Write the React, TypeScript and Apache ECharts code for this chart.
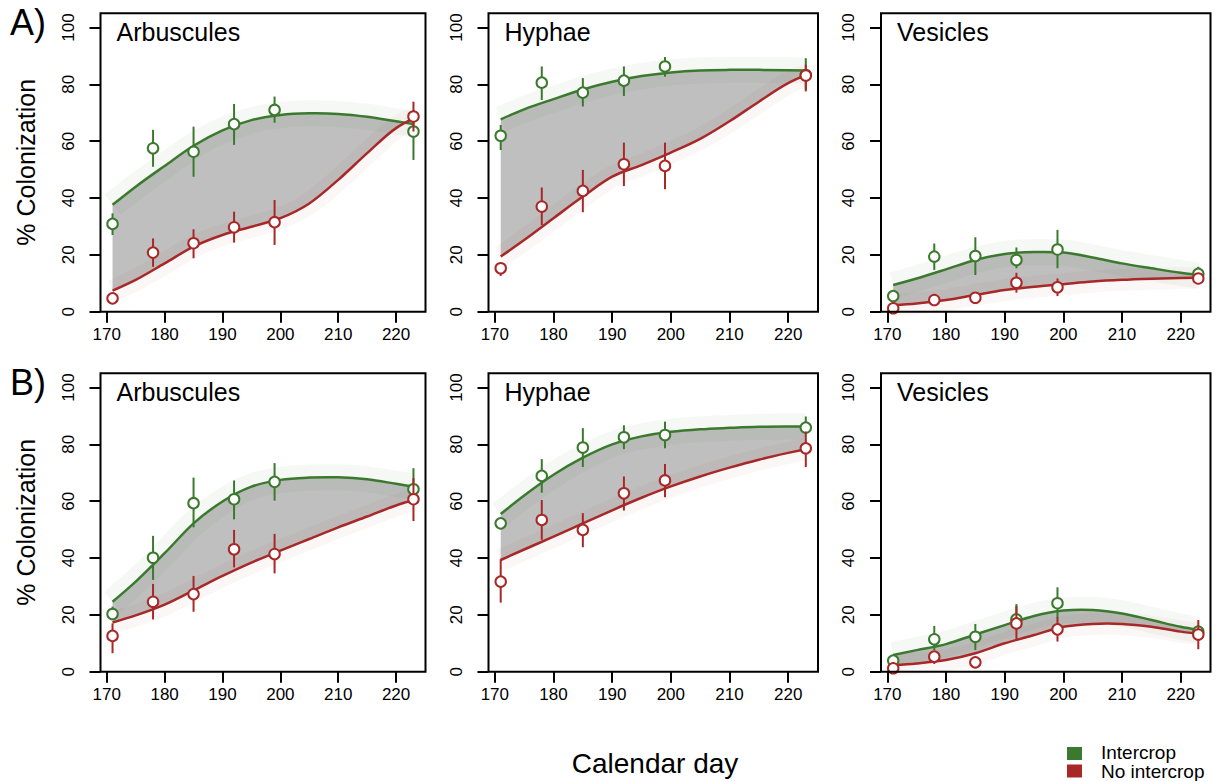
import React, { useEffect, useRef } from "react";
import * as echarts from "echarts";

// ---------- data ----------
const days = [171, 178, 185, 192, 199, 223];
const fitDays = [171, 175, 180, 185, 190, 195, 200, 205, 210, 215, 220, 223];
const xTicks = [170, 180, 190, 200, 210, 220];
const yTicks = [0, 20, 40, 60, 80, 100];
const titles = ["Arbuscules", "Hyphae", "Vesicles"];
const rowLabels = ["A)", "B)"];
const legendNames = ["Intercrop", "No intercrop"];

// A) Arbuscules
const aArbGreenPts = [30.9, 57.5, 56.3, 66.0, 71.0, 63.4];
const aArbGreenLo = [27.0, 51.0, 47.5, 58.7, 66.5, 53.4];
const aArbGreenHi = [34.6, 64.0, 65.1, 73.1, 75.7, 71.0];
const aArbRedPts = [4.7, 20.8, 24.1, 29.7, 31.5, 68.7];
const aArbRedLo = [3.5, 15.8, 18.8, 24.3, 23.5, 63.4];
const aArbRedHi = [6.0, 25.8, 29.0, 35.2, 39.3, 73.9];
const aArbGreenFit = [37.6, 44.0, 51.3, 58.4, 63.8, 67.4, 69.2, 69.8, 69.6, 68.6, 67.0, 66.0];
const aArbRedFit = [7.4, 11.2, 17.0, 22.9, 27.0, 29.9, 32.9, 38.1, 46.4, 55.8, 64.6, 68.0];

// A) Hyphae
const aHypGreenPts = [61.9, 80.6, 77.1, 81.3, 86.3, 83.3];
const aHypGreenLo = [56.9, 74.5, 72.2, 75.9, 82.7, 78.0];
const aHypGreenHi = [65.7, 86.3, 82.2, 86.3, 89.6, 89.2];
const aHypRedPts = [15.3, 37.0, 42.5, 51.9, 51.3, 83.1];
const aHypRedLo = [12.6, 30.5, 35.0, 44.2, 43.1, 77.5];
const aHypRedHi = [17.0, 43.7, 49.9, 59.5, 59.5, 86.9];
const aHypGreenFit = [67.7, 71.2, 74.8, 78.2, 80.9, 82.9, 84.2, 84.9, 85.1, 85.1, 85.0, 84.9];
const aHypRedFit = [19.4, 25.2, 32.9, 40.5, 47.5, 51.6, 56.0, 60.8, 67.0, 73.9, 80.4, 83.3];

// A) Vesicles
const aVesGreenPts = [5.5, 19.4, 19.6, 18.2, 21.9, 13.3];
const aVesGreenLo = [4.5, 14.7, 12.9, 15.3, 15.3, 12.3];
const aVesGreenHi = [6.5, 24.0, 26.2, 22.6, 28.8, 15.8];
const aVesRedPts = [1.2, 4.1, 4.9, 10.2, 8.6, 11.7];
const aVesRedLo = [0.3, 2.9, 3.5, 6.7, 5.5, 9.7];
const aVesRedHi = [2.0, 5.2, 6.5, 13.7, 11.7, 13.5];
const aVesGreenFit = [9.4, 11.7, 14.9, 18.2, 20.3, 21.0, 20.8, 19.1, 17.0, 15.3, 13.7, 12.9];
const aVesRedFit = [2.3, 2.9, 4.1, 5.9, 7.6, 8.8, 9.7, 10.6, 11.2, 11.6, 11.9, 12.0];

// B) Arbuscules
const bArbGreenPts = [20.3, 40.1, 59.3, 60.7, 66.8, 64.2];
const bArbGreenLo = [18.2, 32.3, 50.8, 53.6, 60.2, 62.8];
const bArbGreenHi = [22.9, 47.8, 68.3, 67.3, 73.4, 71.6];
const bArbRedPts = [12.6, 24.6, 27.3, 43.1, 41.4, 60.7];
const bArbRedLo = [6.5, 18.4, 21.1, 36.7, 34.6, 53.0];
const bArbRedHi = [17.0, 30.9, 33.7, 49.9, 48.5, 68.1];
const bArbGreenFit = [24.6, 31.7, 41.7, 52.2, 59.9, 65.1, 67.5, 68.3, 68.4, 67.7, 66.1, 65.1];
const bArbRedFit = [17.3, 19.8, 23.6, 28.6, 33.7, 38.4, 42.6, 46.7, 50.8, 54.6, 58.5, 60.4];

// B) Hyphae
const bHypGreenPts = [52.2, 68.9, 78.9, 82.5, 83.3, 85.9];
const bHypGreenLo = [50.5, 63.0, 72.0, 78.3, 78.6, 84.0];
const bHypGreenHi = [54.0, 74.8, 85.7, 86.7, 88.0, 89.8];
const bHypRedPts = [31.7, 53.4, 49.9, 62.8, 67.3, 78.6];
const bHypRedLo = [24.3, 46.4, 43.8, 56.7, 61.4, 72.0];
const bHypRedHi = [39.6, 60.4, 55.8, 68.7, 73.1, 84.5];
const bHypGreenFit = [55.5, 62.0, 69.3, 75.3, 80.0, 82.8, 84.4, 85.3, 85.8, 86.2, 86.3, 86.3];
const bHypRedFit = [39.3, 43.0, 47.5, 52.2, 56.8, 61.2, 65.2, 68.7, 71.8, 74.6, 77.0, 78.3];

// B) Vesicles
const bVesGreenPts = [3.9, 11.4, 12.3, 18.4, 24.1, 14.1];
const bVesGreenLo = [2.5, 7.6, 7.6, 15.8, 18.8, 12.9];
const bVesGreenHi = [5.5, 16.1, 16.8, 23.8, 29.7, 15.8];
const bVesRedPts = [1.2, 5.3, 3.3, 17.0, 14.9, 13.1];
const bVesRedLo = [0.3, 2.7, 3.3, 11.4, 10.6, 7.9];
const bVesRedHi = [2.0, 6.5, 3.3, 23.1, 19.1, 18.2];
const bVesGreenFit = [5.9, 7.6, 9.7, 13.1, 16.4, 19.6, 21.5, 21.7, 20.5, 18.2, 15.8, 14.7];
const bVesRedFit = [2.3, 2.9, 4.1, 6.5, 10.0, 12.9, 15.8, 16.8, 16.8, 15.8, 14.1, 13.3];

// ---------- styles / layout ----------
const GREEN = "#3b7a2e";
const RED = "#a82828";
const FILL = "#bfbfbf";
const FONT = "'Liberation Sans', Arial, Helvetica, sans-serif";

const colBoxes = [
  { left: 100.5, width: 325 },
  { left: 488.5, width: 329.5 },
  { left: 881, width: 329.5 },
];
const rowBoxes = [
  { top: 13.3, height: 298.4 },
  { top: 373.3, height: 298.4 },
];

const panels = [
  { row: 0, col: 0, gp: aArbGreenPts, gl: aArbGreenLo, gh: aArbGreenHi, rp: aArbRedPts, rl: aArbRedLo, rh: aArbRedHi, gf: aArbGreenFit, rf: aArbRedFit },
  { row: 0, col: 1, gp: aHypGreenPts, gl: aHypGreenLo, gh: aHypGreenHi, rp: aHypRedPts, rl: aHypRedLo, rh: aHypRedHi, gf: aHypGreenFit, rf: aHypRedFit },
  { row: 0, col: 2, gp: aVesGreenPts, gl: aVesGreenLo, gh: aVesGreenHi, rp: aVesRedPts, rl: aVesRedLo, rh: aVesRedHi, gf: aVesGreenFit, rf: aVesRedFit },
  { row: 1, col: 0, gp: bArbGreenPts, gl: bArbGreenLo, gh: bArbGreenHi, rp: bArbRedPts, rl: bArbRedLo, rh: bArbRedHi, gf: bArbGreenFit, rf: bArbRedFit },
  { row: 1, col: 1, gp: bHypGreenPts, gl: bHypGreenLo, gh: bHypGreenHi, rp: bHypRedPts, rl: bHypRedLo, rh: bHypRedHi, gf: bHypGreenFit, rf: bHypRedFit },
  { row: 1, col: 2, gp: bVesGreenPts, gl: bVesGreenLo, gh: bVesGreenHi, rp: bVesRedPts, rl: bVesRedLo, rh: bVesRedHi, gf: bVesGreenFit, rf: bVesRedFit },
];

// smooth cubic (Hermite -> Bezier) path through pixel points
function curvePath(pts: number[][], start: string): string {
  const n = pts.length;
  const d: number[] = [];
  for (let k = 0; k < n - 1; k++) {
    d.push((pts[k + 1][1] - pts[k][1]) / (pts[k + 1][0] - pts[k][0]));
  }
  const m: number[] = new Array(n);
  for (let k = 1; k < n - 1; k++) {
    const h0 = pts[k][0] - pts[k - 1][0];
    const h1 = pts[k + 1][0] - pts[k][0];
    m[k] = (d[k - 1] * h1 + d[k] * h0) / (h0 + h1);
  }
  m[0] = (3 * d[0] - m[1]) / 2;
  m[n - 1] = (3 * d[n - 2] - m[n - 2]) / 2;
  let s = `${start}${pts[0][0]},${pts[0][1]}`;
  for (let k = 0; k < n - 1; k++) {
    const h = pts[k + 1][0] - pts[k][0];
    const c1x = pts[k][0] + h / 3;
    const c1y = pts[k][1] + (m[k] * h) / 3;
    const c2x = pts[k + 1][0] - h / 3;
    const c2y = pts[k + 1][1] - (m[k + 1] * h) / 3;
    s += ` C${c1x},${c1y} ${c2x},${c2y} ${pts[k + 1][0]},${pts[k + 1][1]}`;
  }
  return s;
}

function fitRender(p: any) {
  return (params: any, api: any) => {
    if (params.dataIndex !== 0) return null;
    const gPx = fitDays.map((d, k) => api.coord([d, p.gf[k]]));
    const rPx = fitDays.map((d, k) => api.coord([d, p.rf[k]]));
    const gPath = curvePath(gPx, "M");
    const rPath = curvePath(rPx, "M");
    const fillPath = gPath + " " + curvePath(rPx.slice().reverse(), "L") + " Z";
    return {
      type: "group",
      children: [
        { type: "path", shape: { pathData: fillPath }, style: { fill: FILL, stroke: "none" } },
        { type: "path", shape: { pathData: gPath }, style: { fill: "none", stroke: GREEN, lineWidth: 26, opacity: 0.05 } },
        { type: "path", shape: { pathData: rPath }, style: { fill: "none", stroke: RED, lineWidth: 22, opacity: 0.04 } },
        { type: "path", shape: { pathData: gPath }, style: { fill: "none", stroke: GREEN, lineWidth: 2.5 } },
        { type: "path", shape: { pathData: rPath }, style: { fill: "none", stroke: RED, lineWidth: 2.5 } },
      ],
    };
  };
}

function errRender(color: string) {
  return (params: any, api: any) => {
    const x = api.value(0);
    const p1 = api.coord([x, api.value(1)]);
    const p2 = api.coord([x, api.value(2)]);
    return {
      type: "line",
      shape: { x1: p1[0], y1: p1[1], x2: p2[0], y2: p2[1] },
      style: { stroke: color, lineWidth: 2 },
    };
  };
}

function buildOption() {
  const grid: any[] = [];
  const xAxis: any[] = [];
  const yAxis: any[] = [];
  const series: any[] = [];
  const graphic: any[] = [];

  panels.forEach((p, i) => {
    const c = colBoxes[p.col];
    const r = rowBoxes[p.row];
    grid.push({ left: c.left, top: r.top, width: c.width, height: r.height, show: false, containLabel: false });
    xAxis.push({
      type: "value",
      gridIndex: i,
      min: 168.92,
      max: 225.08,
      axisLine: { show: false },
      splitLine: { show: false },
      axisTick: { show: true, inside: false, length: 11, customValues: xTicks, lineStyle: { color: "#000", width: 2 } },
      axisLabel: { customValues: xTicks, fontSize: 17, color: "#000", fontFamily: FONT, margin: 14 },
    });
    yAxis.push({
      type: "value",
      gridIndex: i,
      min: 0,
      max: 105,
      axisLine: { show: false },
      splitLine: { show: false },
      axisTick: { show: true, inside: false, length: 11, customValues: yTicks, lineStyle: { color: "#000", width: 2 } },
      axisLabel: { customValues: yTicks, rotate: 90, fontSize: 17, color: "#000", fontFamily: FONT, margin: 24 },
    });

    const common = { xAxisIndex: i, yAxisIndex: i, silent: true };

    // gray area between fits, confidence halos and fitted lines
    series.push({
      ...common,
      type: "custom",
      renderItem: fitRender(p),
      encode: { x: 0, y: [1, 2] },
      data: fitDays.map((d, k) => [d, p.gf[k], p.rf[k]]),
      z: 1,
    });
    // error bars + points
    series.push({ ...common, type: "custom", renderItem: errRender(GREEN), encode: { x: 0, y: [1, 2] }, data: days.map((d, k) => [d, p.gl[k], p.gh[k]]), z: 5 });
    series.push({ ...common, type: "scatter", data: days.map((d, k) => [d, p.gp[k]]), symbol: "circle", symbolSize: 10.5, itemStyle: { color: "#fff", borderColor: GREEN, borderWidth: 2, opacity: 1 }, z: 6 });
    series.push({ ...common, type: "custom", renderItem: errRender(RED), encode: { x: 0, y: [1, 2] }, data: days.map((d, k) => [d, p.rl[k], p.rh[k]]), z: 7 });
    series.push({ ...common, type: "scatter", data: days.map((d, k) => [d, p.rp[k]]), symbol: "circle", symbolSize: 10.5, itemStyle: { color: "#fff", borderColor: RED, borderWidth: 2, opacity: 1 }, z: 8 });

    // panel box
    graphic.push({
      type: "rect",
      z: 100,
      silent: true,
      shape: { x: c.left, y: r.top, width: c.width, height: r.height },
      style: { fill: "none", stroke: "#000", lineWidth: 2 },
    });
    graphic.push({
      type: "text",
      x: c.left + 16,
      y: r.top + 19,
      z: 100,
      style: { text: titles[p.col], fill: "#000", font: `25px ${FONT}`, align: "left", verticalAlign: "middle" },
    });
  });

  rowBoxes.forEach((r, j) => {
    graphic.push({
      type: "text",
      x: 10,
      y: r.top + 9.5,
      style: { text: rowLabels[j], fill: "#000", font: `36px ${FONT}`, align: "left", verticalAlign: "middle" },
    });
    graphic.push({
      type: "text",
      x: 26,
      y: r.top + 149,
      rotation: Math.PI / 2,
      style: { text: "% Colonization", fill: "#000", font: `25px ${FONT}`, align: "center", verticalAlign: "middle" },
    });
  });

  graphic.push({
    type: "text",
    x: 655,
    y: 763,
    style: { text: "Calendar day", fill: "#000", font: `28px ${FONT}`, align: "center", verticalAlign: "middle" },
  });
  [GREEN, RED].forEach((col, j) => {
    graphic.push({ type: "rect", shape: { x: 1067, y: 747 + j * 17.5, width: 15, height: 13 }, style: { fill: col } });
    graphic.push({
      type: "text",
      x: 1101,
      y: 752 + j * 19,
      style: { text: legendNames[j], fill: "#000", font: `19px ${FONT}`, align: "left", verticalAlign: "middle" },
    });
  });

  return {
    animation: false,
    backgroundColor: "#fff",
    grid,
    xAxis,
    yAxis,
    series,
    graphic,
  };
}

export default function App() {
  const ref = useRef<HTMLDivElement>(null);
  useEffect(() => {
    if (!ref.current) return;
    const chart = echarts.init(ref.current, undefined, { renderer: "svg" });
    chart.setOption(buildOption() as any);
    return () => chart.dispose();
  }, []);
  return (
    <div
      ref={ref}
      style={{ position: "absolute", left: 0, top: 0, width: 1218, height: 781 }}
    />
  );
}
